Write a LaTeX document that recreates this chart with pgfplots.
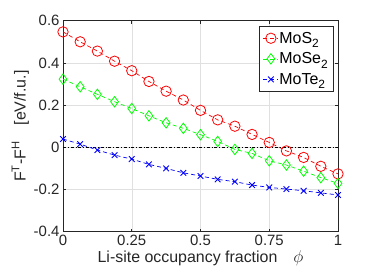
\documentclass[border=0pt]{standalone}
\usepackage{pgfplots}
\pgfplotsset{compat=1.18}
\usepackage{fontspec}
\setmainfont{Liberation Sans}
\definecolor{axgray}{rgb}{0.15,0.15,0.15}
\definecolor{gridgray}{rgb}{0.88,0.88,0.88}
\definecolor{mgreen}{rgb}{0,1,0}
\newcommand{\sub}[1]{\raisebox{-0.55ex}{\fontsize{12}{12}\selectfont #1}}
\begin{document}
\begin{tikzpicture}
\useasboundingbox (0,0) rectangle (374bp,280bp);
\begin{axis}[
  at={(63bp,48.3bp)}, anchor=south west,
  scale only axis, width=275bp, height=211bp,
  xmin=0, xmax=1, ymin=-0.4, ymax=0.6,
  xtick={0,0.25,0.5,0.75,1},
  xticklabels={0,0.25,0.5,0.75,1},
  ytick={-0.4,-0.2,0,0.2,0.4,0.6},
  yticklabels={-0.4,-0.2,0,0.2,0.4,0.6},
  grid=major,
  major grid style={gridgray, line width=0.5pt},
  axis line style={axgray, line width=0.6pt},
  tick style={axgray, line width=0.6pt},
  tick align=inside,
  major tick length=3bp,
  ticklabel style={font=\fontsize{15}{18}\selectfont, text=axgray},
  xlabel={Li-site occupancy fraction\quad $\phi$},
  ylabel={F\textsuperscript{T}-F\textsuperscript{H}\quad [eV/f.u.]},
  label style={font=\fontsize{16}{19}\selectfont, text=axgray},
  xlabel style={yshift=2bp},
  ylabel style={yshift=-2bp},
  legend style={at={(1,1)}, anchor=north east, xshift=-5bp, yshift=-5bp,
    font=\fontsize{16}{19}\selectfont, draw=axgray, line width=0.5pt,
    row sep=4bp, inner xsep=3bp, inner ysep=4bp},
  legend cell align=left,
  legend image code/.code={\draw[#1] (0cm,0cm) -- (0.5cm,0cm); \draw[#1, solid] plot coordinates {(0.28cm,0cm)};},
]
\addplot[red, line width=0.7pt, dash pattern=on 4bp off 3bp, mark=o, mark size=5.2bp, mark options={solid, line width=0.8pt}] coordinates {
(0,0.547) (0.0625,0.500) (0.125,0.456) (0.1875,0.408) (0.25,0.363) (0.3125,0.312) (0.375,0.266) (0.4375,0.224) (0.5,0.175) (0.5625,0.130) (0.625,0.100) (0.6875,0.061) (0.75,0.023) (0.8125,-0.017) (0.875,-0.048) (0.9375,-0.090) (1,-0.126)};
\addlegendentry{MoS\sub{2}}
\addplot[mgreen, line width=0.7pt, dash pattern=on 4bp off 3bp, mark=diamond, mark size=5.2bp, mark options={solid, line width=0.8pt}] coordinates {
(0,0.323) (0.0625,0.287) (0.125,0.251) (0.1875,0.216) (0.25,0.184) (0.3125,0.149) (0.375,0.116) (0.4375,0.090) (0.5,0.060) (0.5625,0.028) (0.625,-0.010) (0.6875,-0.029) (0.75,-0.064) (0.8125,-0.084) (0.875,-0.113) (0.9375,-0.144) (1,-0.171)};
\addlegendentry{MoSe\sub{2}}
\addplot[blue, line width=0.7pt, dash pattern=on 4bp off 3bp, mark=x, mark size=4bp, mark options={solid, line width=0.9pt}] coordinates {
(0,0.039) (0.0625,0.015) (0.125,-0.013) (0.1875,-0.037) (0.25,-0.056) (0.3125,-0.081) (0.375,-0.100) (0.4375,-0.121) (0.5,-0.136) (0.5625,-0.152) (0.625,-0.163) (0.6875,-0.179) (0.75,-0.190) (0.8125,-0.198) (0.875,-0.206) (0.9375,-0.216) (1,-0.226)};
\addlegendentry{MoTe\sub{2}}
\addplot[black, line width=0.6pt, dash dot, forget plot] coordinates {(0,0) (1,0)};
\end{axis}
\end{tikzpicture}
\end{document}
